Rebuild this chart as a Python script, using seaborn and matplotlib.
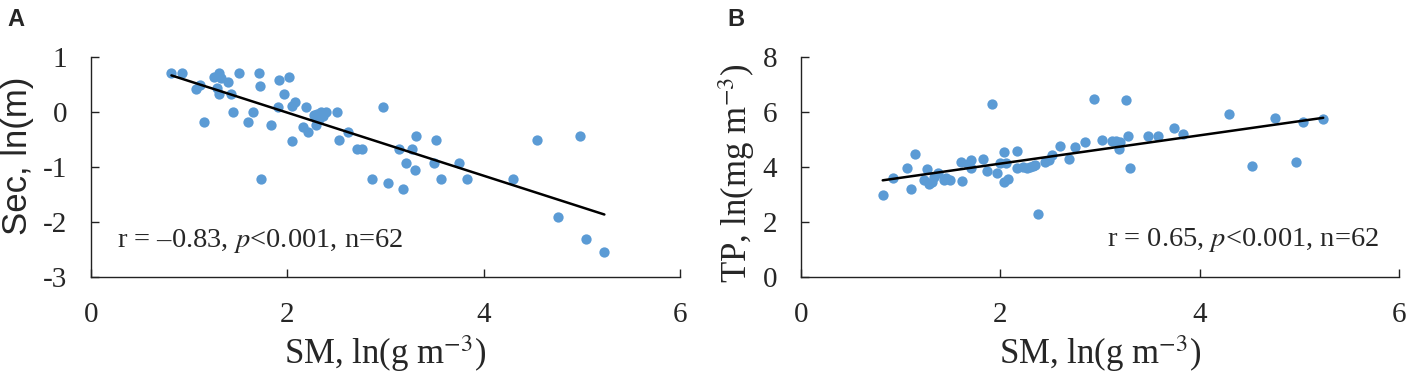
import numpy as np
import pandas as pd
import seaborn as sns
import matplotlib.pyplot as plt
from matplotlib.font_manager import FontProperties

# panel A: Secchi depth vs suspended matter
sm_a = [0.82, 0.93, 1.07, 1.11, 1.15, 1.25, 1.30, 1.32, 1.30, 1.28,
        1.40, 1.43, 1.45, 1.51, 1.60, 1.65, 1.71, 1.72, 1.73, 1.83,
        1.91, 1.92, 1.97, 2.02, 2.05, 2.05, 2.08, 2.19, 2.16, 2.21,
        2.29, 2.30, 2.34, 2.39, 2.51, 2.53, 2.62, 2.71, 2.76, 2.97,
        2.86, 3.03, 3.14, 3.18, 3.21, 3.27, 3.31, 3.30, 3.49, 3.51,
        3.57, 3.75, 3.83, 4.30, 4.54, 4.76, 4.98, 5.04, 5.23, 2.32,
        2.27, 2.36]
sec = [0.71, 0.71, 0.42, 0.49, -0.18, 0.64, 0.71, 0.62, 0.33, 0.43,
       0.55, 0.33, 0.00, 0.71, -0.18, 0.00, 0.71, 0.47, -1.22, -0.24,
       0.10, 0.58, 0.33, 0.64, 0.11, -0.52, 0.19, 0.10, -0.28, -0.37,
       -0.24, -0.03, 0.00, 0.00, 0.00, -0.51, -0.37, -0.68, -0.68, 0.09,
       -1.22, -1.29, -0.68, -1.40, -0.92, -0.68, -0.44, -1.05, -0.92, -0.51,
       -1.22, -0.92, -1.22, -1.22, -0.51, -1.90, -0.44, -2.31, -2.55, -0.12,
       -0.05, -0.08]

# panel B: total phosphorus vs suspended matter
sm_b = [0.82, 0.92, 1.06, 1.10, 1.14, 1.26, 1.23, 1.28, 1.31, 1.37,
        1.43, 1.50, 1.61, 1.62, 1.71, 1.71, 1.83, 1.87, 1.92, 1.97,
        2.00, 2.04, 2.04, 2.08, 2.17, 2.17, 2.23, 2.30, 2.35, 2.38,
        2.49, 2.52, 2.60, 2.69, 2.75, 2.85, 2.94, 3.02, 3.12, 3.16,
        3.19, 3.26, 3.28, 3.30, 3.48, 3.58, 3.74, 3.83, 4.29, 4.53,
        4.76, 4.97, 5.04, 5.24, 1.33, 1.45, 1.68, 2.06, 2.27, 2.33,
        2.45, 3.20]
tp = [3.00, 3.60, 3.98, 3.19, 4.49, 3.93, 3.53, 3.37, 3.44, 3.80,
      3.53, 3.53, 4.20, 3.48, 4.27, 3.98, 4.30, 3.87, 6.30, 3.80,
      4.13, 4.55, 3.46, 3.57, 4.58, 3.98, 4.00, 4.00, 4.09, 2.28,
      4.25, 4.45, 4.75, 4.30, 4.71, 4.90, 6.49, 4.97, 4.93, 4.96,
      4.64, 6.45, 5.14, 3.98, 5.14, 5.11, 5.43, 5.20, 5.94, 4.03,
      5.80, 4.20, 5.65, 5.76, 3.62, 3.60, 4.10, 4.15, 3.95, 4.03,
      4.20, 4.90]

xticks = [0, 2, 4, 6]
yticks_a = [-3, -2, -1, 0, 1]
yticks_b = [0, 2, 4, 6, 8]

sns.set_style("ticks")
serif = ['Liberation Serif', 'DejaVu Serif']
sans = ['Liberation Sans', 'DejaVu Sans']
plt.rcParams['font.family'] = serif
plt.rcParams['mathtext.fontset'] = 'stix'
plt.rcParams['axes.unicode_minus'] = False

dot_color = "#5B9BD5"
df_a = pd.DataFrame({"sm": sm_a, "sec": sec})
df_b = pd.DataFrame({"sm": sm_b, "tp": tp})

fig = plt.figure(figsize=(14.06, 3.76), dpi=100)
ax_a = fig.add_axes([0.0647, 0.2633, 0.4189, 0.585])
ax_b = fig.add_axes([0.5697, 0.2633, 0.4253, 0.585])

sns.regplot(data=df_a, x="sm", y="sec", ax=ax_a, ci=None,
            scatter_kws=dict(color=dot_color, s=55, alpha=1, linewidths=0),
            line_kws=dict(color="black", lw=1.8))
sns.regplot(data=df_b, x="sm", y="tp", ax=ax_b, ci=None,
            scatter_kws=dict(color=dot_color, s=55, alpha=1, linewidths=0),
            line_kws=dict(color="black", lw=1.8))

ax_a.set_xlim(0, 6)
ax_a.set_ylim(-3, 1)
ax_b.set_xlim(0, 6)
ax_b.set_ylim(0, 8)

tick_font = FontProperties(family="Liberation Serif", size=21)
for ax, yt in ((ax_a, yticks_a), (ax_b, yticks_b)):
    ax.set_xticks(xticks, [str(v) for v in xticks], fontproperties=tick_font)
    ax.set_yticks(yt, [str(v) for v in yt], fontproperties=tick_font)
    sns.despine(ax=ax)
    for s in ("left", "bottom"):
        ax.spines[s].set_color("#222222")
        ax.spines[s].set_linewidth(1.0)
    ax.tick_params(axis="both", direction="in", length=6, width=1.0,
                   color="#222222")
    ax.tick_params(axis="x", pad=18)
    ax.tick_params(axis="y", pad=17)
    ax.set_xlabel("SM, ln(g m$^{-3}$)", fontsize=25, labelpad=4)

ax_a.set_ylabel("Sec, ln(m)", fontsize=25, family=sans)
ax_a.yaxis.set_label_coords(-0.097, 0.55)
ax_b.set_ylabel("TP, ln(mg m$^{-3}$)", fontsize=25)
ax_b.yaxis.set_label_coords(-0.074, 0.47)

ax_a.text(0.27, -2.45, "r = \u20130.83, $p$<0.001, n=62", fontsize=20.5,
          ha="left", va="baseline")
ax_b.text(5.80, 1.12, "r = 0.65, $p$<0.001, n=62", fontsize=20.5,
          ha="right", va="baseline")

fig.text(0.005, 0.979, "A", fontsize=17, fontweight="bold", va="top", family=sans)
fig.text(0.517, 0.979, "B", fontsize=17, fontweight="bold", va="top", family=sans)

plt.savefig("out.png", dpi=100)
